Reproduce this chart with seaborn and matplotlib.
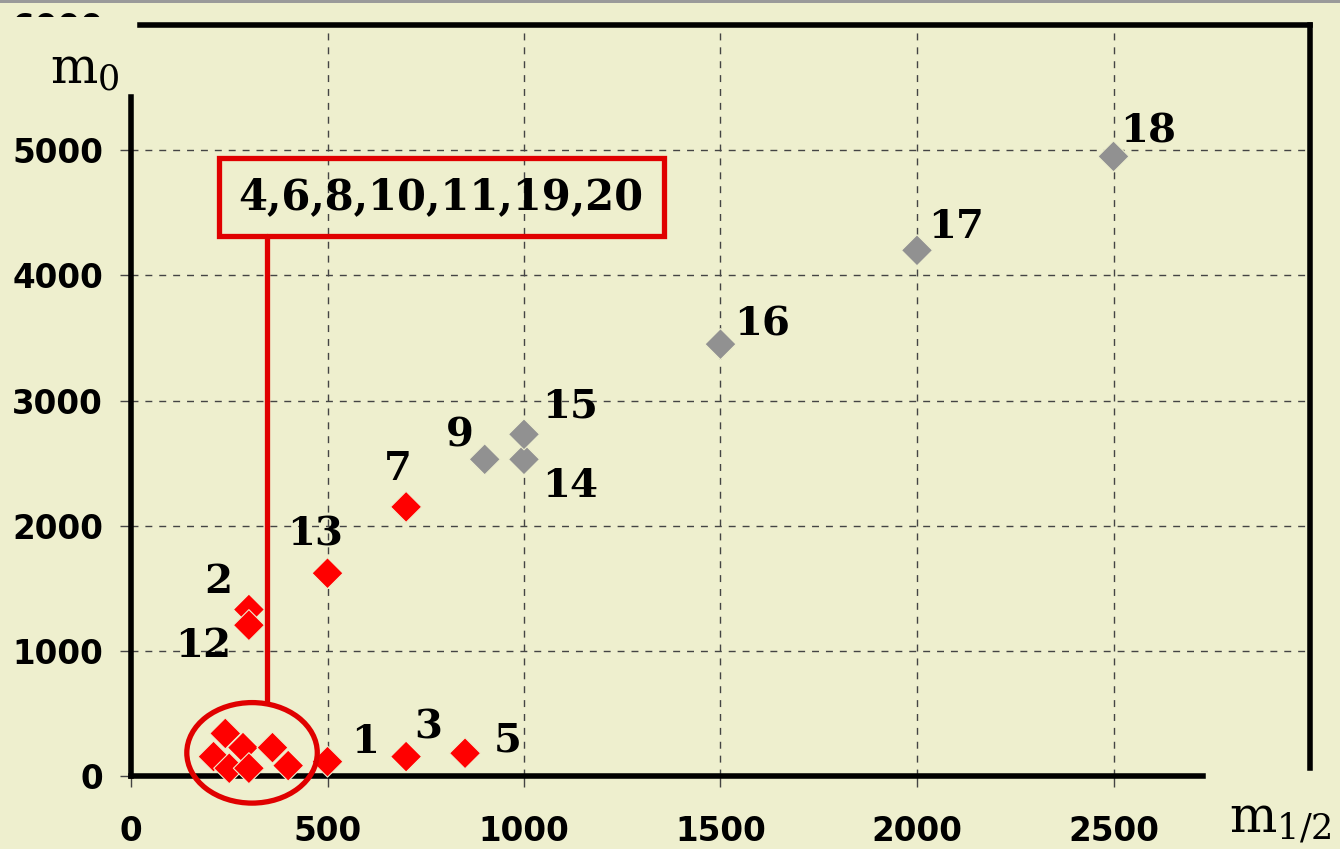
import numpy as np
import pandas as pd
import seaborn as sns
import matplotlib.pyplot as plt
from matplotlib.patches import Ellipse, Rectangle

# noktalar (m_1/2, m_0)
red_ids = ["1", "2", "3", "5", "7", "12", "13"]
red_x = [500, 300, 700, 850, 700, 300, 500]
red_y = [115, 1330, 155, 182, 2150, 1205, 1620]

cluster_ids = "4,6,8,10,11,19,20"
cluster_x = [240, 210, 285, 360, 250, 300, 400]
cluster_y = [340, 155, 227, 227, 62, 62, 83]

grey_ids = ["9", "14", "15", "16", "17", "18"]
grey_x = [900, 1000, 1000, 1500, 2000, 2500]
grey_y = [2530, 2530, 2730, 3450, 4200, 4950]

x_ticks = [0, 500, 1000, 1500, 2000, 2500]
y_ticks = [0, 1000, 2000, 3000, 4000, 5000, 6000]

# etiketlerin noktaya gore kaymasi (punto)
label_offsets = {
    "1": (27, 14), "2": (-22, 20), "3": (16, 21), "5": (31, 9),
    "7": (-6, 27), "12": (-33, -15), "13": (-9, 28),
    "9": (-18, 17), "14": (33, -19), "15": (33, 20),
    "16": (30, 14), "17": (28, 17), "18": (25, 18),
}

bg = "#EEEFCE"
red = "#FF0000"
grey = "#919191"

df = pd.DataFrame({
    "x": red_x + cluster_x + grey_x,
    "y": red_y + cluster_y + grey_y,
    "grup": ["r"] * (len(red_x) + len(cluster_x)) + ["g"] * len(grey_x),
})

sns.set_style("white")
plt.rcParams["mathtext.fontset"] = "dejavuserif"
plt.rcParams["text.color"] = "black"
plt.rcParams["xtick.color"] = "black"
plt.rcParams["ytick.color"] = "black"

fig = plt.figure(figsize=(13.4, 8.49), dpi=100, facecolor=bg)
ax = fig.add_axes([131 / 1340, 73 / 849, 1179 / 1340, 751 / 849])
ax.set_facecolor(bg)

sns.scatterplot(data=df, x="x", y="y", hue="grup", palette={"r": red, "g": grey},
                marker="D", s=250, edgecolor=bg, linewidth=0.8, legend=False,
                ax=ax, zorder=4, clip_on=False)

for ids, xs, ys in [(red_ids, red_x, red_y), (grey_ids, grey_x, grey_y)]:
    for lab, xv, yv in zip(ids, xs, ys):
        ax.annotate(lab, (xv, yv), xytext=label_offsets[lab], textcoords="offset points",
                    ha="center", va="center", fontsize=29, fontweight="bold",
                    family="DejaVu Serif", color="black", zorder=5)

# kume kutusu, cizgi ve elips
ax.add_patch(Rectangle((224, 4318), 1132, 618, fill=False, edgecolor="#E00000",
                       linewidth=3.8, zorder=5))
ax.text(788, 4623, cluster_ids, ha="center", va="center", fontsize=30,
        fontweight="bold", family="DejaVu Serif", color="black", zorder=5)
ax.plot([346, 346], [4318, 586], color="#E00000", linewidth=3.8, zorder=5)
ax.add_patch(Ellipse((308, 185), 332, 803, fill=False, edgecolor="#E00000",
                     linewidth=3.8, zorder=5, clip_on=False))

ax.set_xlim(0, 3000)
ax.set_ylim(0, 6000)
ax.set_xticks(x_ticks)
ax.set_yticks(y_ticks)
ax.set_xticklabels([str(v) for v in x_ticks], fontsize=23.5, fontweight="bold", color="black")
ax.set_yticklabels([str(v) for v in y_ticks], fontsize=23.5, fontweight="bold", color="black")
ax.set_xlabel("")
ax.set_ylabel("")
ax.tick_params(axis="x", length=8, width=1, color="#444444", pad=20, direction="out", bottom=True)
ax.tick_params(axis="y", length=8, width=1, color="#444444", pad=12, direction="out", left=True)

ax.grid(True, linestyle=(0, (5, 5)), color="#444444", linewidth=1)
ax.set_axisbelow(True)
# 0 ve 6000 cizgilerini gizle
ax.xaxis.get_gridlines()[0].set_visible(False)
ax.yaxis.get_gridlines()[0].set_visible(False)
ax.yaxis.get_gridlines()[-1].set_visible(False)
ax.yaxis.get_major_ticks()[-1].tick1line.set_visible(False)

for s in ["left", "bottom", "top", "right"]:
    ax.spines[s].set_visible(True)
    ax.spines[s].set_color("black")
    ax.spines[s].set_linewidth(4)
ax.spines["left"].set_bounds(0, 5425)
ax.spines["bottom"].set_bounds(0, 2727)
ax.spines["top"].set_bounds(23, 3000)
ax.spines["right"].set_bounds(64, 6000)

# sol ustteki 6000 etiketinin ortusu
fig.add_artist(Rectangle((0, 1 - 120 / 849), 128 / 1340, 103 / 849, transform=fig.transFigure,
                         facecolor=bg, edgecolor="none", zorder=2))
fig.add_artist(Rectangle((0, 1 - 3 / 849), 1, 3 / 849, transform=fig.transFigure,
                         facecolor="#9a9a9a", edgecolor="none", zorder=3))

fig.text(85 / 1340, 1 - 70 / 849, r"$\mathrm{m}_0$", fontsize=36, ha="center", va="center",
         color="black", zorder=4)
fig.text(1280 / 1340, 1 - 822 / 849, r"$\mathrm{m}_{1/2}$", fontsize=36, ha="center", va="center",
         color="black")

fig.savefig("out.png", dpi=100, facecolor=bg)
